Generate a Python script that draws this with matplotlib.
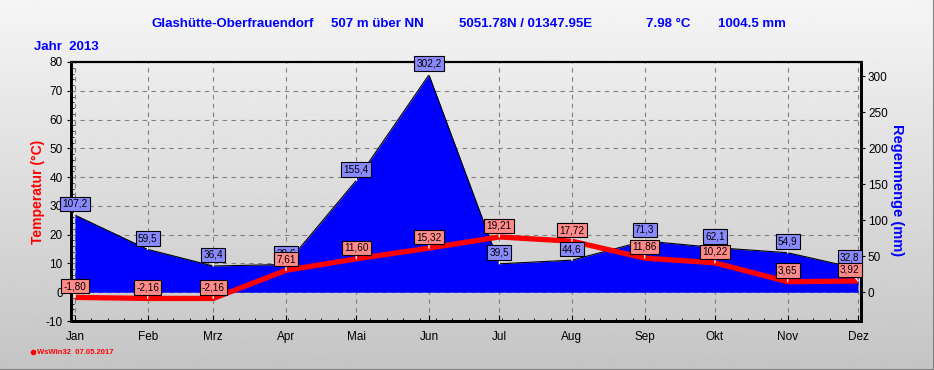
import numpy as np
import matplotlib.pyplot as plt
from matplotlib.lines import Line2D
from matplotlib.ticker import MultipleLocator, FixedLocator

plt.rcParams['axes.unicode_minus'] = False

# Monthly values 2013, station Glashütte-Oberfrauendorf
months = ['Jan', 'Feb', 'Mrz', 'Apr', 'Mai', 'Jun', 'Jul', 'Aug', 'Sep', 'Okt', 'Nov', 'Dez']
month_day = [0, 31, 59, 90, 120, 151, 181, 212, 243, 273, 304, 334]   # day of year, 1st of month
temperature = [-1.80, -2.16, -2.16, 7.61, 11.60, 15.32, 19.21, 17.72, 11.86, 10.22, 3.65, 3.92]
rain = [107.2, 59.5, 36.4, 38.6, 155.4, 302.2, 39.5, 44.6, 71.3, 62.1, 54.9, 32.8]

title_parts = ['Glashütte-Oberfrauendorf', '507 m über NN', '5051.78N / 01347.95E',
               '7.98 °C', '1004.5 mm']
title_x = [151, 331, 459, 646, 718]   # left edge in pixels

W, H = 934, 370
fig = plt.figure(figsize=(W / 100, H / 100), dpi=100)

# grey gradient background
bg = fig.add_axes([0, 0, 1, 1], zorder=-10)
grad = np.linspace(0.96, 0.77, 256).reshape(-1, 1)
bg.imshow(grad, aspect='auto', cmap='gray', vmin=0, vmax=1, extent=[0, 1, 0, 1])
bg.axis('off')
fig.add_artist(Line2D([0, 1], [0.5 / H, 0.5 / H], color='#808080', lw=1.5))
fig.add_artist(Line2D([1 - 0.5 / W, 1 - 0.5 / W], [0, 1], color='#808080', lw=1.5))

tick_font = ['Liberation Sans', 'DejaVu Sans']
narrow_font = ['Liberation Sans Narrow', 'Liberation Sans', 'DejaVu Sans']

ax = fig.add_axes([71 / W, 49 / H, 790 / W, 259 / H])
ax.patch.set_visible(False)
ax.set_xlim(-1.7, 335.3)
ax.set_ylim(-10, 80)
ax2 = ax.twinx()
ax2.set_ylim(-40, 320)

# rain area
ax2.fill_between(month_day, 0, rain, color='#0000ff', lw=0, zorder=1)
ax2.plot(month_day, rain, color='black', lw=0.8, zorder=2)

# temperature line (drawn on the upper axes so it sits above the rain)
ax2.plot(month_day, temperature, color='#ff0000', lw=3.8, zorder=3,
         transform=ax.transData, solid_capstyle='butt')

# value labels
for i, (d, r) in enumerate(zip(month_day, rain)):
    dx = -6 if i == len(months) - 1 else 0
    ax2.annotate(f'{r:.1f}'.replace('.', ','), xy=(d, r), xytext=(dx, 8),
                 textcoords='offset points', ha='center', va='center',
                 fontsize=7.2, family=tick_font, zorder=4,
                 bbox=dict(boxstyle='square,pad=0.22', fc='#8a8aff', ec='black', lw=0.8),
                 arrowprops=dict(arrowstyle='-', color='white', lw=1, shrinkA=0, shrinkB=0))
for i, (d, t) in enumerate(zip(month_day, temperature)):
    dx = -6 if i == len(months) - 1 else 0
    ax2.annotate(f'{t:.2f}'.replace('.', ','), xy=(d, t), xycoords=ax.transData,
                 xytext=(dx, 8), textcoords='offset points', ha='center', va='center',
                 fontsize=7.2, family=tick_font, zorder=5,
                 bbox=dict(boxstyle='square,pad=0.22', fc='#ff8a8a', ec='black', lw=0.8),
                 arrowprops=dict(arrowstyle='-', color='white', lw=1, shrinkA=0, shrinkB=0))

# grid and ticks
ax.grid(True, ls=(0, (4, 4)), color='#808080', lw=0.8)
ax.set_axisbelow(True)
ax.set_xticks(month_day, months)
ax.xaxis.set_minor_locator(MultipleLocator(7))
ax.yaxis.set_major_locator(MultipleLocator(10))
ax.yaxis.set_minor_locator(MultipleLocator(2))
ax.tick_params(axis='x', which='major', direction='in', length=4, pad=7, labelsize=8.5)
ax.tick_params(axis='x', which='minor', direction='in', length=2.5)
ax.tick_params(axis='y', which='major', direction='out', length=3, pad=3, labelsize=8.5)
ax.tick_params(axis='y', which='minor', direction='in', length=2.5)
ax2.yaxis.set_major_locator(FixedLocator(range(0, 301, 50)))
ax2.tick_params(axis='y', direction='out', length=3, pad=2, labelsize=8.5)
for a in (ax, ax2):
    for lab in a.get_xticklabels() + a.get_yticklabels():
        lab.set_family(tick_font)
for a in (ax, ax2):
    for side in ('left', 'right', 'bottom'):
        a.spines[side].set_linewidth(2)
    a.spines['top'].set_linewidth(1.5)

# texts
for txt, x in zip(title_parts, title_x):
    fig.text(x / W, 1 - 24 / H, txt, ha='left', va='center', color='#0000ff',
             fontsize=9.5, fontweight='bold', family=narrow_font)
fig.text(34 / W, 1 - 47 / H, 'Jahr  2013', ha='left', va='center', color='#0000ff',
         fontsize=9.5, fontweight='bold', family=narrow_font)
fig.text(38 / W, 1 - 192 / H, 'Temperatur (°C)', rotation=90, ha='center', va='center',
         color='#ff0000', fontsize=10, fontweight='bold', family=tick_font)
fig.text(897 / W, 1 - 190 / H, 'Regenmenge (mm)', rotation=270, ha='center', va='center',
         color='#0000ff', fontsize=10.5, fontweight='bold', family=tick_font)
fig.add_artist(Line2D([33 / W], [1 - 352 / H], marker='o', ms=3, color='#ff0000'))
fig.text(37 / W, 1 - 352 / H, 'WsWin32  07.05.2017', ha='left', va='center',
         color='#ff0000', fontsize=5.5, fontweight='bold', family=tick_font)

fig.savefig('out.png', dpi=100)
